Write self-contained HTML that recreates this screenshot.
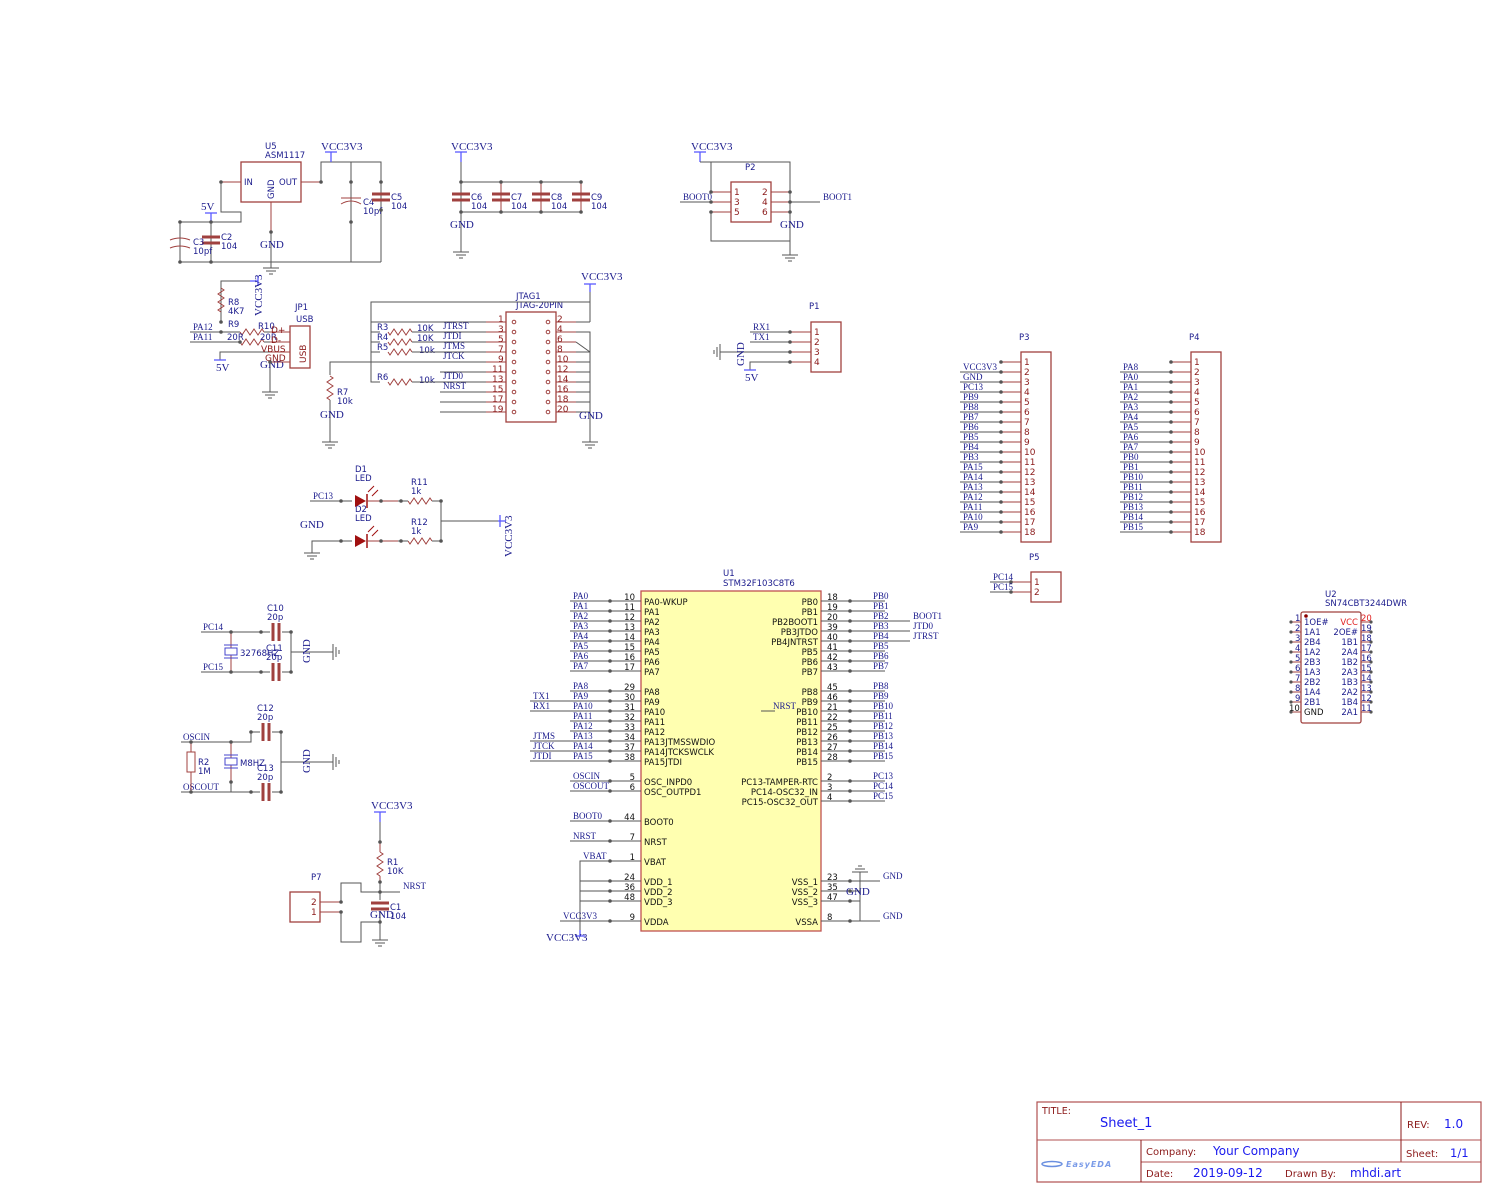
<!DOCTYPE html>
<html><head><meta charset="utf-8"><style>
html,body{margin:0;padding:0;background:#fff}
svg{display:block}
.w{stroke:#555;stroke-width:1;fill:none}
.p{stroke:#a0413f;stroke-width:1;fill:none}
.b{stroke:#a0413f;stroke-width:1.3;fill:none}
.pw{stroke:#5a5aff;stroke-width:1.3;fill:none}
.n{font-family:"Liberation Serif",serif;font-size:9px;fill:#1a1a8c}
.pn{font-family:"Liberation Serif",serif;font-size:11px;fill:#1a1a8c}
.s{font-family:"DejaVu Sans","Liberation Sans",sans-serif;font-size:8.5px;fill:#1a1a8c}
.sb{font-family:"DejaVu Sans","Liberation Sans",sans-serif;font-size:8.5px;fill:#111}
.r{font-family:"DejaVu Sans","Liberation Sans",sans-serif;font-size:9px;fill:#8b1a1a}
.d{fill:#555}
</style></head><body>
<svg width="1503" height="1203" viewBox="0 0 1503 1203" xmlns="http://www.w3.org/2000/svg">
<defs>
<g id="gnd"><line x1="-8" y1="0" x2="8" y2="0" stroke="#555"/><line x1="-5" y1="3" x2="5" y2="3" stroke="#555"/><line x1="-2" y1="6" x2="2" y2="6" stroke="#555"/></g>
<g id="cap"><line x1="-9" y1="-3" x2="9" y2="-3" stroke="#a0413f" stroke-width="3"/><line x1="-9" y1="3" x2="9" y2="3" stroke="#a0413f" stroke-width="3"/></g>
<g id="resv"><polyline points="0,-12 3,-10 -3,-6 3,-2 -3,2 3,6 -3,10 0,12" stroke="#a0413f" fill="none"/></g>
<g id="resh"><polyline points="-12,0 -10,3 -6,-3 -2,3 2,-3 6,3 10,-3 12,0" stroke="#a0413f" fill="none"/></g>
</defs>

<!-- ===== U5 power ===== -->
<text class="s" x="265" y="149">U5</text><text class="s" x="265" y="158">ASM1117</text>
<rect x="241" y="162" width="60" height="40" class="b"/>
<text class="s" x="244" y="185">IN</text><text class="s" x="279" y="185">OUT</text>
<text class="s" transform="translate(274,199) rotate(-90)">GND</text>
<line class="p" x1="221" y1="182" x2="241" y2="182"/><line class="p" x1="301" y1="182" x2="321" y2="182"/><line class="p" x1="271" y1="202" x2="271" y2="232"/>
<polyline class="w" points="221,182 221,212 241,212 241,222 180,222 180,262 381,262"/>
<line class="w" x1="271" y1="232" x2="271" y2="268"/>
<use href="#gnd" x="271" y="268"/>
<text class="pn" x="260" y="248">GND</text>
<line class="pw" x1="211" y1="213" x2="211" y2="222"/><line class="pw" x1="205" y1="213" x2="217" y2="213"/>
<text class="pn" x="201" y="210">5V</text>
<line class="w" x1="211" y1="222" x2="211" y2="262"/>
<use href="#cap" x="211" y="240"/>
<text class="s" x="221" y="240">C2</text><text class="s" x="221" y="249">104</text>
<path class="p" d="M170,240 Q180,236 190,240 M170,248 Q180,244 190,248"/>
<text class="s" x="193" y="245">C3</text><text class="s" x="193" y="254">10pf</text>
<polyline class="w" points="321,182 321,162 381,162 381,262"/>
<line class="pw" x1="331" y1="152" x2="331" y2="162"/><line class="pw" x1="325" y1="152" x2="337" y2="152"/>
<text class="pn" x="321" y="150">VCC3V3</text>
<line class="w" x1="351" y1="162" x2="351" y2="262"/>
<path class="p" d="M341,204 Q351,198 361,204"/><line class="p" x1="341" y1="198" x2="361" y2="198"/>
<text class="s" x="363" y="205">C4</text><text class="s" x="363" y="214">10pf</text>
<use href="#cap" x="381" y="197"/>
<text class="s" x="391" y="200">C5</text><text class="s" x="391" y="209">104</text>
<circle class="d" cx="221" cy="182" r="1.8"/><circle class="d" cx="321" cy="182" r="1.8"/><circle class="d" cx="351" cy="182" r="1.8"/><circle class="d" cx="381" cy="182" r="1.8"/><circle class="d" cx="271" cy="232" r="1.8"/><circle class="d" cx="211" cy="222" r="1.8"/><circle class="d" cx="180" cy="222" r="1.8"/><circle class="d" cx="180" cy="262" r="1.8"/><circle class="d" cx="211" cy="262" r="1.8"/><circle class="d" cx="351" cy="222" r="1.8"/><circle class="d" cx="381" cy="210" r="1.8"/>

<!-- ===== C6-C9 ===== -->
<line class="pw" x1="461" y1="152" x2="461" y2="162"/><line class="pw" x1="455" y1="152" x2="467" y2="152"/>
<text class="pn" x="451" y="150">VCC3V3</text>
<line class="w" x1="461" y1="162" x2="461" y2="252"/><use href="#gnd" x="461" y="252"/>
<line class="w" x1="461" y1="182" x2="581" y2="182"/><line class="w" x1="461" y1="212" x2="581" y2="212"/>
<text class="pn" x="450" y="228">GND</text>
<g><line class="p" x1="501" y1="182" x2="501" y2="212"/><line class="p" x1="541" y1="182" x2="541" y2="212"/><line class="p" x1="581" y1="182" x2="581" y2="212"/></g>
<use href="#cap" x="461" y="197"/><use href="#cap" x="501" y="197"/><use href="#cap" x="541" y="197"/><use href="#cap" x="581" y="197"/>
<text class="s" x="471" y="200">C6</text><text class="s" x="471" y="209">104</text>
<text class="s" x="511" y="200">C7</text><text class="s" x="511" y="209">104</text>
<text class="s" x="551" y="200">C8</text><text class="s" x="551" y="209">104</text>
<text class="s" x="591" y="200">C9</text><text class="s" x="591" y="209">104</text>
<circle class="d" cx="461" cy="182" r="1.8"/><circle class="d" cx="501" cy="182" r="1.8"/><circle class="d" cx="541" cy="182" r="1.8"/><circle class="d" cx="581" cy="182" r="1.8"/><circle class="d" cx="461" cy="212" r="1.8"/><circle class="d" cx="501" cy="212" r="1.8"/><circle class="d" cx="541" cy="212" r="1.8"/><circle class="d" cx="581" cy="212" r="1.8"/>

<!-- ===== P2 ===== -->
<line class="pw" x1="700" y1="152" x2="700" y2="162"/><line class="pw" x1="694" y1="152" x2="706" y2="152"/>
<text class="pn" x="691" y="150">VCC3V3</text>
<text class="s" x="745" y="170">P2</text>
<rect x="731" y="182" width="40" height="40" class="b"/>
<polyline class="w" points="700,162 790,162 790,255"/><polyline class="w" points="711,162 711,192"/><polyline class="w" points="711,212 711,241 790,241"/>
<use href="#gnd" x="790" y="255"/>
<line class="p" x1="711" y1="192" x2="731" y2="192"/><line class="p" x1="711" y1="202" x2="731" y2="202"/><line class="p" x1="711" y1="212" x2="731" y2="212"/>
<line class="p" x1="771" y1="192" x2="790" y2="192"/><line class="p" x1="771" y1="202" x2="790" y2="202"/><line class="p" x1="771" y1="212" x2="790" y2="212"/>
<line class="w" x1="680" y1="202" x2="711" y2="202"/><line class="w" x1="790" y1="202" x2="820" y2="202"/>
<text class="n" x="683" y="200">BOOT0</text><text class="n" x="823" y="200">BOOT1</text>
<text class="r" x="734" y="195">1</text><text class="r" x="734" y="205">3</text><text class="r" x="734" y="215">5</text>
<text class="r" x="762" y="195">2</text><text class="r" x="762" y="205">4</text><text class="r" x="762" y="215">6</text>
<text class="pn" x="780" y="228">GND</text>
<circle class="d" cx="711" cy="192" r="1.8"/><circle class="d" cx="711" cy="202" r="1.8"/><circle class="d" cx="711" cy="212" r="1.8"/><circle class="d" cx="790" cy="192" r="1.8"/><circle class="d" cx="790" cy="202" r="1.8"/><circle class="d" cx="790" cy="212" r="1.8"/>

<!-- ===== P1 ===== -->
<text class="s" x="809" y="309">P1</text>
<rect x="811" y="322" width="30" height="50" class="b"/>
<line class="w" x1="750" y1="332" x2="790" y2="332"/><line class="w" x1="750" y1="342" x2="790" y2="342"/><line class="w" x1="720" y1="352" x2="790" y2="352"/><polyline class="w" points="750,370 750,362 790,362"/>
<line class="p" x1="790" y1="332" x2="811" y2="332"/><line class="p" x1="790" y1="342" x2="811" y2="342"/><line class="p" x1="790" y1="352" x2="811" y2="352"/><line class="p" x1="790" y1="362" x2="811" y2="362"/>
<text class="r" x="814" y="335">1</text><text class="r" x="814" y="345">2</text><text class="r" x="814" y="355">3</text><text class="r" x="814" y="365">4</text>
<text class="n" x="753" y="330">RX1</text><text class="n" x="753" y="340">TX1</text>
<g transform="translate(720,352) rotate(90)"><use href="#gnd"/></g>
<text class="pn" transform="translate(744,366) rotate(-90)">GND</text>
<line class="pw" x1="744" y1="370" x2="756" y2="370"/><text class="pn" x="745" y="381">5V</text>
<circle class="d" cx="790" cy="332" r="1.8"/><circle class="d" cx="790" cy="342" r="1.8"/><circle class="d" cx="790" cy="352" r="1.8"/><circle class="d" cx="790" cy="362" r="1.8"/>

<!-- ===== USB ===== -->
<polyline class="w" points="221,322 221,281 250,281"/><line class="pw" x1="250" y1="281" x2="258" y2="281"/><line class="pw" x1="258" y1="276" x2="258" y2="286"/>
<text class="pn" transform="translate(262,316) rotate(-90)">VCC3V3</text>
<use href="#resv" x="221" y="300"/><text class="s" x="228" y="305">R8</text><text class="s" x="228" y="314">4K7</text>
<line class="w" x1="190" y1="332" x2="240" y2="332"/><line class="w" x1="190" y1="342" x2="240" y2="342"/>
<text class="n" x="193" y="330">PA12</text><text class="n" x="193" y="340">PA11</text>
<use href="#resh" x="252" y="332"/><use href="#resh" x="252" y="342"/>
<line class="w" x1="264" y1="332" x2="270" y2="332"/><line class="w" x1="264" y1="342" x2="270" y2="342"/>
<text class="s" x="228" y="327">R9</text><text class="s" x="227" y="340">20R</text><text class="s" x="258" y="329">R10</text><text class="s" x="260" y="340">20R</text>
<polyline class="w" points="220,360 220,352 270,352"/><line class="pw" x1="214" y1="360" x2="226" y2="360"/><text class="pn" x="216" y="371">5V</text>
<line class="w" x1="270" y1="362" x2="270" y2="392"/><use href="#gnd" x="270" y="392"/>
<text class="pn" x="260" y="368">GND</text>
<line class="p" x1="270" y1="332" x2="290" y2="332"/><line class="p" x1="270" y1="342" x2="290" y2="342"/><line class="p" x1="270" y1="352" x2="290" y2="352"/><line class="p" x1="270" y1="362" x2="290" y2="362"/>
<rect x="290" y="326" width="20" height="42" class="b"/>
<text class="r" x="271" y="333">D+</text><text class="r" x="271" y="343">D-</text><text class="r" x="261" y="352">VBUS</text><text class="r" x="265" y="361">GND</text>
<text class="r" transform="translate(306,363) rotate(-90)">USB</text>
<text class="s" x="295" y="310">JP1</text><text class="s" x="296" y="322">USB</text>
<circle class="d" cx="221" cy="322" r="1.8"/><circle class="d" cx="221" cy="332" r="1.8"/><circle class="d" cx="240" cy="342" r="1.8"/><circle class="d" cx="270" cy="362" r="1.8"/>

<!-- ===== JTAG ===== -->
<text class="s" x="516" y="299">JTAG1</text><text class="s" x="516" y="308">JTAG-20PIN</text>
<line class="pw" x1="590" y1="284" x2="590" y2="292"/><line class="pw" x1="584" y1="284" x2="596" y2="284"/>
<text class="pn" x="581" y="280">VCC3V3</text>
<polyline class="w" points="590,292 590,302 371,302 371,382 380,382"/>
<line class="w" x1="371" y1="332" x2="380" y2="332"/><line class="w" x1="371" y1="342" x2="380" y2="342"/><line class="w" x1="371" y1="352" x2="380" y2="352"/>
<use href="#resh" x="400" y="332"/><use href="#resh" x="400" y="342"/><use href="#resh" x="400" y="352"/><use href="#resh" x="400" y="382"/>
<text class="s" x="377" y="330">R3</text><text class="s" x="377" y="340">R4</text><text class="s" x="377" y="350">R5</text><text class="s" x="377" y="380">R6</text>
<text class="s" x="417" y="331">10K</text><text class="s" x="417" y="341">10K</text><text class="s" x="419" y="353">10k</text><text class="s" x="419" y="383">10k</text>
<line class="w" x1="412" y1="332" x2="486" y2="332"/><line class="w" x1="412" y1="342" x2="486" y2="342"/><line class="w" x1="412" y1="352" x2="486" y2="352"/><line class="w" x1="412" y1="382" x2="486" y2="382"/>
<line class="w" x1="371" y1="322" x2="486" y2="322"/>
<polyline class="w" points="330,375 330,362 486,362"/><line class="w" x1="330" y1="400" x2="330" y2="442"/><use href="#gnd" x="330" y="442"/>
<use href="#resv" x="330" y="388"/><text class="s" x="337" y="395">R7</text><text class="s" x="337" y="404">10k</text>
<text class="pn" x="320" y="418">GND</text>
<line class="w" x1="440" y1="372" x2="486" y2="372"/><line class="w" x1="440" y1="392" x2="486" y2="392"/><line class="w" x1="440" y1="402" x2="486" y2="402"/><line class="w" x1="440" y1="412" x2="486" y2="412"/>
<text class="n" x="443" y="329">JTRST</text><text class="n" x="443" y="339">JTDI</text><text class="n" x="443" y="349">JTMS</text><text class="n" x="443" y="359">JTCK</text><text class="n" x="443" y="379">JTD0</text><text class="n" x="443" y="389">NRST</text>
<rect x="506" y="312" width="50" height="110" class="b" stroke-width="2"/>
<g class="p">
<line x1="486" y1="322" x2="506" y2="322"/><line x1="486" y1="332" x2="506" y2="332"/><line x1="486" y1="342" x2="506" y2="342"/><line x1="486" y1="352" x2="506" y2="352"/><line x1="486" y1="362" x2="506" y2="362"/><line x1="486" y1="372" x2="506" y2="372"/><line x1="486" y1="382" x2="506" y2="382"/><line x1="486" y1="392" x2="506" y2="392"/><line x1="486" y1="402" x2="506" y2="402"/><line x1="486" y1="412" x2="506" y2="412"/>
<line x1="556" y1="322" x2="576" y2="322"/><line x1="556" y1="332" x2="576" y2="332"/><line x1="556" y1="342" x2="576" y2="342"/><line x1="556" y1="352" x2="576" y2="352"/><line x1="556" y1="362" x2="576" y2="362"/><line x1="556" y1="372" x2="576" y2="372"/><line x1="556" y1="382" x2="576" y2="382"/><line x1="556" y1="392" x2="576" y2="392"/><line x1="556" y1="402" x2="576" y2="402"/><line x1="556" y1="412" x2="576" y2="412"/>
</g>
<g fill="none" stroke="#a0413f"><circle cx="514" cy="322" r="1.8"/><circle cx="514" cy="332" r="1.8"/><circle cx="514" cy="342" r="1.8"/><circle cx="514" cy="352" r="1.8"/><circle cx="514" cy="362" r="1.8"/><circle cx="514" cy="372" r="1.8"/><circle cx="514" cy="382" r="1.8"/><circle cx="514" cy="392" r="1.8"/><circle cx="514" cy="402" r="1.8"/><circle cx="514" cy="412" r="1.8"/>
<circle cx="548" cy="322" r="1.8"/><circle cx="548" cy="332" r="1.8"/><circle cx="548" cy="342" r="1.8"/><circle cx="548" cy="352" r="1.8"/><circle cx="548" cy="362" r="1.8"/><circle cx="548" cy="372" r="1.8"/><circle cx="548" cy="382" r="1.8"/><circle cx="548" cy="392" r="1.8"/><circle cx="548" cy="402" r="1.8"/><circle cx="548" cy="412" r="1.8"/></g>
<g class="r" font-size="9"><text x="498" y="322">1</text><text x="498" y="332">3</text><text x="498" y="342">5</text><text x="498" y="352">7</text><text x="498" y="362">9</text><text x="492" y="372">11</text><text x="492" y="382">13</text><text x="492" y="392">15</text><text x="492" y="402">17</text><text x="492" y="412">19</text>
<text x="557" y="322">2</text><text x="557" y="332">4</text><text x="557" y="342">6</text><text x="557" y="352">8</text><text x="557" y="362">10</text><text x="557" y="372">12</text><text x="557" y="382">14</text><text x="557" y="392">16</text><text x="557" y="402">18</text><text x="557" y="412">20</text></g>
<line class="w" x1="576" y1="322" x2="590" y2="322"/><line class="w" x1="590" y1="302" x2="590" y2="322"/>
<polyline class="w" points="576,332 590,332 590,442"/><line class="w" x1="576" y1="342" x2="590" y2="352"/>
<line class="w" x1="576" y1="352" x2="590" y2="352"/><line class="w" x1="576" y1="362" x2="590" y2="362"/><line class="w" x1="576" y1="372" x2="590" y2="372"/><line class="w" x1="576" y1="382" x2="590" y2="382"/><line class="w" x1="576" y1="392" x2="590" y2="392"/><line class="w" x1="576" y1="402" x2="590" y2="402"/><line class="w" x1="576" y1="412" x2="590" y2="412"/>
<use href="#gnd" x="590" y="442"/><text class="pn" x="579" y="419">GND</text>

<!-- ===== LEDs ===== -->
<text class="s" x="355" y="472">D1</text><text class="s" x="355" y="481">LED</text>
<text class="s" x="355" y="512">D2</text><text class="s" x="355" y="521">LED</text>
<line class="w" x1="310" y1="501" x2="352" y2="501"/><text class="n" x="313" y="499">PC13</text>
<polygon points="355,495 355,507 366,501" fill="#a01010"/><line x1="367" y1="494" x2="367" y2="508" stroke="#a01010" stroke-width="1.5"/>
<polygon points="355,535 355,547 366,541" fill="#a01010"/><line x1="367" y1="534" x2="367" y2="548" stroke="#a01010" stroke-width="1.5"/>
<path d="M368,492 l6,-6 M372,496 l6,-6 M368,532 l6,-6 M372,536 l6,-6" stroke="#a01010"/>
<line class="p" x1="367" y1="501" x2="398" y2="501"/><line class="p" x1="367" y1="541" x2="398" y2="541"/>
<use href="#resh" x="420" y="501"/><use href="#resh" x="420" y="541"/>
<text class="s" x="411" y="485">R11</text><text class="s" x="411" y="494">1k</text><text class="s" x="411" y="525">R12</text><text class="s" x="411" y="534">1k</text>
<line class="w" x1="398" y1="501" x2="408" y2="501"/><line class="w" x1="398" y1="541" x2="408" y2="541"/>
<polyline class="w" points="432,501 441,501 441,541 432,541"/><line class="w" x1="441" y1="521" x2="498" y2="521"/>
<line class="pw" x1="498" y1="521" x2="506" y2="521"/><line class="pw" x1="500" y1="515" x2="500" y2="527"/>
<text class="pn" transform="translate(512,557) rotate(-90)">VCC3V3</text>
<polyline class="w" points="312,553 312,541 352,541"/><use href="#gnd" x="312" y="553"/>
<text class="pn" x="300" y="528">GND</text>
<circle class="d" cx="341" cy="501" r="1.8"/><circle class="d" cx="341" cy="541" r="1.8"/><circle class="d" cx="381" cy="501" r="1.8"/><circle class="d" cx="401" cy="501" r="1.8"/><circle class="d" cx="381" cy="541" r="1.8"/><circle class="d" cx="401" cy="541" r="1.8"/><circle class="d" cx="441" cy="501" r="1.8"/><circle class="d" cx="441" cy="541" r="1.8"/>

<!-- ===== 32768 crystal ===== -->
<text class="s" x="267" y="611">C10</text><text class="s" x="267" y="620">20p</text>
<line class="w" x1="201" y1="632" x2="270" y2="632"/><line class="w" x1="201" y1="672" x2="270" y2="672"/>
<text class="n" x="203" y="630">PC14</text><text class="n" x="203" y="670">PC15</text>
<g transform="translate(276,632) rotate(90)"><use href="#cap"/></g><g transform="translate(276,672) rotate(90)"><use href="#cap"/></g>
<line class="w" x1="282" y1="632" x2="291" y2="632"/><line class="w" x1="282" y1="672" x2="291" y2="672"/>
<line class="w" x1="291" y1="632" x2="291" y2="672"/><line class="w" x1="291" y1="652" x2="333" y2="652"/>
<g transform="translate(333,652) rotate(-90)"><use href="#gnd"/></g>
<text class="pn" transform="translate(310,663) rotate(-90)">GND</text>
<line class="p" x1="231" y1="632" x2="231" y2="672"/><rect x="225" y="648" width="12" height="7" fill="#fff" stroke="#4444cc"/>
<line x1="224" y1="645" x2="238" y2="645" stroke="#4444cc"/><line x1="224" y1="658" x2="238" y2="658" stroke="#4444cc"/>
<text class="s" x="240" y="656">32768HZ</text><text class="s" x="266" y="651">C11</text><text class="s" x="266" y="660">20p</text>
<circle class="d" cx="231" cy="632" r="1.8"/><circle class="d" cx="231" cy="672" r="1.8"/><circle class="d" cx="261" cy="632" r="1.8"/><circle class="d" cx="261" cy="672" r="1.8"/><circle class="d" cx="291" cy="632" r="1.8"/><circle class="d" cx="291" cy="672" r="1.8"/>

<!-- ===== 8MHz crystal ===== -->
<text class="s" x="257" y="711">C12</text><text class="s" x="257" y="720">20p</text>
<polyline class="w" points="181,742 251,742 251,732 260,732"/><line class="w" x1="272" y1="732" x2="281" y2="732"/>
<g transform="translate(266,732) rotate(90)"><use href="#cap"/></g>
<line class="w" x1="181" y1="792" x2="260" y2="792"/><line class="w" x1="272" y1="792" x2="281" y2="792"/>
<g transform="translate(266,792) rotate(90)"><use href="#cap"/></g>
<line class="w" x1="281" y1="732" x2="281" y2="792"/><line class="w" x1="281" y1="762" x2="333" y2="762"/>
<g transform="translate(333,762) rotate(-90)"><use href="#gnd"/></g>
<text class="pn" transform="translate(310,773) rotate(-90)">GND</text>
<text class="n" x="183" y="740">OSCIN</text><text class="n" x="183" y="790">OSCOUT</text>
<line class="p" x1="191" y1="742" x2="191" y2="792"/><rect x="187" y="752" width="8" height="20" fill="#fff" stroke="#a0413f"/>
<text class="s" x="198" y="765">R2</text><text class="s" x="198" y="774">1M</text>
<line class="p" x1="231" y1="742" x2="231" y2="782"/><line class="w" x1="231" y1="782" x2="231" y2="792"/><rect x="225" y="758" width="12" height="7" fill="#fff" stroke="#4444cc"/>
<line x1="224" y1="755" x2="238" y2="755" stroke="#4444cc"/><line x1="224" y1="768" x2="238" y2="768" stroke="#4444cc"/>
<text class="s" x="240" y="766">M8HZ</text><text class="s" x="257" y="771">C13</text><text class="s" x="257" y="780">20p</text>
<circle class="d" cx="191" cy="742" r="1.8"/><circle class="d" cx="191" cy="792" r="1.8"/><circle class="d" cx="231" cy="742" r="1.8"/><circle class="d" cx="231" cy="782" r="1.8"/><circle class="d" cx="251" cy="732" r="1.8"/><circle class="d" cx="251" cy="792" r="1.8"/><circle class="d" cx="281" cy="732" r="1.8"/><circle class="d" cx="281" cy="792" r="1.8"/>

<!-- ===== Reset ===== -->
<line class="pw" x1="380" y1="812" x2="380" y2="822"/><line class="pw" x1="374" y1="812" x2="386" y2="812"/>
<text class="pn" x="371" y="809">VCC3V3</text>
<line class="w" x1="380" y1="822" x2="380" y2="842"/>
<line class="p" x1="380" y1="842" x2="380" y2="852"/><use href="#resv" x="380" y="864"/><line class="p" x1="380" y1="876" x2="380" y2="882"/>
<text class="s" x="387" y="865">R1</text><text class="s" x="387" y="874">10K</text>
<line class="w" x1="380" y1="882" x2="380" y2="900"/><line class="w" x1="380" y1="912" x2="380" y2="940"/>
<use href="#cap" x="380" y="906"/><use href="#gnd" x="380" y="940"/>
<text class="s" x="390" y="910">C1</text><text class="s" x="390" y="919">104</text><text class="pn" x="370" y="918">GND</text>
<line class="w" x1="380" y1="892" x2="400" y2="892"/><text class="n" x="403" y="889">NRST</text>
<polyline class="w" points="341,902 341,883 361,883 361,892 380,892"/><polyline class="w" points="341,912 341,942 361,942 361,922 380,922"/>
<line class="p" x1="320" y1="902" x2="341" y2="902"/><line class="p" x1="320" y1="912" x2="341" y2="912"/>
<rect x="290" y="892" width="30" height="30" class="b"/>
<text class="r" x="311" y="905">2</text><text class="r" x="311" y="915">1</text><text class="s" x="311" y="880">P7</text>
<circle class="d" cx="341" cy="902" r="1.8"/><circle class="d" cx="341" cy="912" r="1.8"/><circle class="d" cx="380" cy="842" r="1.8"/><circle class="d" cx="380" cy="882" r="1.8"/><circle class="d" cx="380" cy="892" r="1.8"/><circle class="d" cx="380" cy="922" r="1.8"/>

<!-- ===== U1 ===== -->
<text class="s" x="723" y="576">U1</text><text class="s" x="723" y="586">STM32F103C8T6</text>
<rect x="641" y="591" width="180" height="340" fill="#ffffb0" stroke="#c05050" stroke-width="1.3"/>
<g class="w">
<line x1="570" y1="601" x2="641" y2="601"/><line x1="570" y1="611" x2="641" y2="611"/><line x1="570" y1="621" x2="641" y2="621"/><line x1="570" y1="631" x2="641" y2="631"/><line x1="570" y1="641" x2="641" y2="641"/><line x1="570" y1="651" x2="641" y2="651"/><line x1="570" y1="661" x2="641" y2="661"/><line x1="570" y1="671" x2="641" y2="671"/>
<line x1="570" y1="691" x2="641" y2="691"/><line x1="530" y1="701" x2="641" y2="701"/><line x1="530" y1="711" x2="641" y2="711"/><line x1="570" y1="721" x2="641" y2="721"/><line x1="570" y1="731" x2="641" y2="731"/><line x1="530" y1="741" x2="641" y2="741"/><line x1="530" y1="751" x2="641" y2="751"/><line x1="530" y1="761" x2="641" y2="761"/>
<line x1="570" y1="781" x2="641" y2="781"/><line x1="570" y1="791" x2="641" y2="791"/><line x1="570" y1="821" x2="641" y2="821"/><line x1="570" y1="841" x2="641" y2="841"/>
<polyline points="641,861 580,861 580,930"/><line x1="580" y1="881" x2="641" y2="881"/><line x1="580" y1="891" x2="641" y2="891"/><line x1="580" y1="901" x2="641" y2="901"/><line x1="560" y1="921" x2="641" y2="921"/>
<line x1="821" y1="601" x2="885" y2="601"/><line x1="821" y1="611" x2="885" y2="611"/><line x1="821" y1="621" x2="910" y2="621"/><line x1="821" y1="631" x2="910" y2="631"/><line x1="821" y1="641" x2="910" y2="641"/><line x1="821" y1="651" x2="885" y2="651"/><line x1="821" y1="661" x2="885" y2="661"/><line x1="821" y1="671" x2="885" y2="671"/>
<line x1="821" y1="691" x2="885" y2="691"/><line x1="821" y1="701" x2="885" y2="701"/><line x1="821" y1="711" x2="885" y2="711"/><line x1="821" y1="721" x2="885" y2="721"/><line x1="821" y1="731" x2="885" y2="731"/><line x1="821" y1="741" x2="885" y2="741"/><line x1="821" y1="751" x2="885" y2="751"/><line x1="821" y1="761" x2="885" y2="761"/>
<line x1="821" y1="781" x2="885" y2="781"/><line x1="821" y1="791" x2="885" y2="791"/><line x1="821" y1="801" x2="885" y2="801"/>
<line x1="821" y1="881" x2="880" y2="881"/><line x1="821" y1="891" x2="860" y2="891"/><line x1="821" y1="901" x2="860" y2="901"/><line x1="821" y1="921" x2="880" y2="921"/><line x1="860" y1="872" x2="860" y2="921"/>
<line x1="761" y1="711" x2="775" y2="711"/>
</g>
<line class="pw" x1="580" y1="930" x2="580" y2="936"/><line class="pw" x1="575" y1="936" x2="585" y2="936"/>
<g transform="translate(860,872) rotate(180)"><use href="#gnd"/></g>
<g fill="#555">
<circle cx="610" cy="601" r="1.8"/><circle cx="610" cy="611" r="1.8"/><circle cx="610" cy="621" r="1.8"/><circle cx="610" cy="631" r="1.8"/><circle cx="610" cy="641" r="1.8"/><circle cx="610" cy="651" r="1.8"/><circle cx="610" cy="661" r="1.8"/><circle cx="610" cy="671" r="1.8"/><circle cx="610" cy="691" r="1.8"/><circle cx="610" cy="701" r="1.8"/><circle cx="610" cy="711" r="1.8"/><circle cx="610" cy="721" r="1.8"/><circle cx="610" cy="731" r="1.8"/><circle cx="610" cy="741" r="1.8"/><circle cx="610" cy="751" r="1.8"/><circle cx="610" cy="761" r="1.8"/><circle cx="610" cy="781" r="1.8"/><circle cx="610" cy="791" r="1.8"/><circle cx="610" cy="821" r="1.8"/><circle cx="610" cy="841" r="1.8"/><circle cx="610" cy="861" r="1.8"/><circle cx="610" cy="881" r="1.8"/><circle cx="610" cy="891" r="1.8"/><circle cx="610" cy="901" r="1.8"/><circle cx="610" cy="921" r="1.8"/>
<circle cx="850" cy="601" r="1.8"/><circle cx="850" cy="611" r="1.8"/><circle cx="850" cy="621" r="1.8"/><circle cx="850" cy="631" r="1.8"/><circle cx="850" cy="641" r="1.8"/><circle cx="850" cy="651" r="1.8"/><circle cx="850" cy="661" r="1.8"/><circle cx="850" cy="671" r="1.8"/><circle cx="850" cy="691" r="1.8"/><circle cx="850" cy="701" r="1.8"/><circle cx="850" cy="711" r="1.8"/><circle cx="850" cy="721" r="1.8"/><circle cx="850" cy="731" r="1.8"/><circle cx="850" cy="741" r="1.8"/><circle cx="850" cy="751" r="1.8"/><circle cx="850" cy="761" r="1.8"/><circle cx="850" cy="781" r="1.8"/><circle cx="850" cy="791" r="1.8"/><circle cx="850" cy="801" r="1.8"/><circle cx="850" cy="881" r="1.8"/><circle cx="850" cy="891" r="1.8"/><circle cx="850" cy="901" r="1.8"/><circle cx="850" cy="921" r="1.8"/>
</g>
<g class="n">
<text x="573" y="599">PA0</text><text x="573" y="609">PA1</text><text x="573" y="619">PA2</text><text x="573" y="629">PA3</text><text x="573" y="639">PA4</text><text x="573" y="649">PA5</text><text x="573" y="659">PA6</text><text x="573" y="669">PA7</text>
<text x="573" y="689">PA8</text><text x="573" y="699">PA9</text><text x="573" y="709">PA10</text><text x="573" y="719">PA11</text><text x="573" y="729">PA12</text><text x="573" y="739">PA13</text><text x="573" y="749">PA14</text><text x="573" y="759">PA15</text>
<text x="533" y="699">TX1</text><text x="533" y="709">RX1</text><text x="533" y="739">JTMS</text><text x="533" y="749">JTCK</text><text x="533" y="759">JTDI</text>
<text x="573" y="779">OSCIN</text><text x="573" y="789">OSCOUT</text><text x="573" y="819">BOOT0</text><text x="573" y="839">NRST</text><text x="583" y="859">VBAT</text><text x="563" y="919">VCC3V3</text>
<text x="873" y="599">PB0</text><text x="873" y="609">PB1</text><text x="873" y="619">PB2</text><text x="873" y="629">PB3</text><text x="873" y="639">PB4</text><text x="873" y="649">PB5</text><text x="873" y="659">PB6</text><text x="873" y="669">PB7</text>
<text x="873" y="689">PB8</text><text x="873" y="699">PB9</text><text x="873" y="709">PB10</text><text x="873" y="719">PB11</text><text x="873" y="729">PB12</text><text x="873" y="739">PB13</text><text x="873" y="749">PB14</text><text x="873" y="759">PB15</text>
<text x="873" y="779">PC13</text><text x="873" y="789">PC14</text><text x="873" y="799">PC15</text>
<text x="913" y="619">BOOT1</text><text x="913" y="629">JTD0</text><text x="913" y="639">JTRST</text>
<text x="773" y="709">NRST</text><text x="883" y="879">GND</text><text x="883" y="919">GND</text>
</g>
<text class="pn" x="546" y="941">VCC3V3</text><text class="pn" x="846" y="895">GND</text>
<g class="sb" text-anchor="end">
<text x="635" y="600">10</text><text x="635" y="610">11</text><text x="635" y="620">12</text><text x="635" y="630">13</text><text x="635" y="640">14</text><text x="635" y="650">15</text><text x="635" y="660">16</text><text x="635" y="670">17</text>
<text x="635" y="690">29</text><text x="635" y="700">30</text><text x="635" y="710">31</text><text x="635" y="720">32</text><text x="635" y="730">33</text><text x="635" y="740">34</text><text x="635" y="750">37</text><text x="635" y="760">38</text>
<text x="635" y="780">5</text><text x="635" y="790">6</text><text x="635" y="820">44</text><text x="635" y="840">7</text><text x="635" y="860">1</text><text x="635" y="880">24</text><text x="635" y="890">36</text><text x="635" y="900">48</text><text x="635" y="920">9</text>
</g>
<g class="sb">
<text x="827" y="600">18</text><text x="827" y="610">19</text><text x="827" y="620">20</text><text x="827" y="630">39</text><text x="827" y="640">40</text><text x="827" y="650">41</text><text x="827" y="660">42</text><text x="827" y="670">43</text>
<text x="827" y="690">45</text><text x="827" y="700">46</text><text x="827" y="710">21</text><text x="827" y="720">22</text><text x="827" y="730">25</text><text x="827" y="740">26</text><text x="827" y="750">27</text><text x="827" y="760">28</text>
<text x="827" y="780">2</text><text x="827" y="790">3</text><text x="827" y="800">4</text><text x="827" y="880">23</text><text x="827" y="890">35</text><text x="827" y="900">47</text><text x="827" y="920">8</text>
</g>
<g class="sb">
<text x="644" y="605">PA0-WKUP</text><text x="644" y="615">PA1</text><text x="644" y="625">PA2</text><text x="644" y="635">PA3</text><text x="644" y="645">PA4</text><text x="644" y="655">PA5</text><text x="644" y="665">PA6</text><text x="644" y="675">PA7</text>
<text x="644" y="695">PA8</text><text x="644" y="705">PA9</text><text x="644" y="715">PA10</text><text x="644" y="725">PA11</text><text x="644" y="735">PA12</text><text x="644" y="745">PA13JTMSSWDIO</text><text x="644" y="755">PA14JTCKSWCLK</text><text x="644" y="765">PA15JTDI</text>
<text x="644" y="785">OSC_INPD0</text><text x="644" y="795">OSC_OUTPD1</text><text x="644" y="825">BOOT0</text><text x="644" y="845">NRST</text><text x="644" y="865">VBAT</text><text x="644" y="885">VDD_1</text><text x="644" y="895">VDD_2</text><text x="644" y="905">VDD_3</text><text x="644" y="925">VDDA</text>
</g>
<g class="sb" text-anchor="end">
<text x="818" y="605">PB0</text><text x="818" y="615">PB1</text><text x="818" y="625">PB2BOOT1</text><text x="818" y="635">PB3JTDO</text><text x="818" y="645">PB4JNTRST</text><text x="818" y="655">PB5</text><text x="818" y="665">PB6</text><text x="818" y="675">PB7</text>
<text x="818" y="695">PB8</text><text x="818" y="705">PB9</text><text x="818" y="715">PB10</text><text x="818" y="725">PB11</text><text x="818" y="735">PB12</text><text x="818" y="745">PB13</text><text x="818" y="755">PB14</text><text x="818" y="765">PB15</text>
<text x="818" y="785">PC13-TAMPER-RTC</text><text x="818" y="795">PC14-OSC32_IN</text><text x="818" y="805">PC15-OSC32_OUT</text><text x="818" y="885">VSS_1</text><text x="818" y="895">VSS_2</text><text x="818" y="905">VSS_3</text><text x="818" y="925">VSSA</text>
</g>

<!-- ===== P3 ===== -->
<text class="s" x="1019" y="340">P3</text>
<rect x="1021" y="352" width="30" height="190" class="b"/>
<g class="w">
<line x1="1000" y1="362" x2="1001" y2="362"/><line x1="960" y1="372" x2="1001" y2="372"/><line x1="960" y1="382" x2="1001" y2="382"/><line x1="960" y1="392" x2="1001" y2="392"/><line x1="960" y1="402" x2="1001" y2="402"/><line x1="960" y1="412" x2="1001" y2="412"/><line x1="960" y1="422" x2="1001" y2="422"/><line x1="960" y1="432" x2="1001" y2="432"/><line x1="960" y1="442" x2="1001" y2="442"/><line x1="960" y1="452" x2="1001" y2="452"/><line x1="960" y1="462" x2="1001" y2="462"/><line x1="960" y1="472" x2="1001" y2="472"/><line x1="960" y1="482" x2="1001" y2="482"/><line x1="960" y1="492" x2="1001" y2="492"/><line x1="960" y1="502" x2="1001" y2="502"/><line x1="960" y1="512" x2="1001" y2="512"/><line x1="960" y1="522" x2="1001" y2="522"/><line x1="960" y1="532" x2="1001" y2="532"/>
<line x1="1120" y1="372" x2="1171" y2="372"/><line x1="1120" y1="382" x2="1171" y2="382"/><line x1="1120" y1="392" x2="1171" y2="392"/><line x1="1120" y1="402" x2="1171" y2="402"/><line x1="1120" y1="412" x2="1171" y2="412"/><line x1="1120" y1="422" x2="1171" y2="422"/><line x1="1120" y1="432" x2="1171" y2="432"/><line x1="1120" y1="442" x2="1171" y2="442"/><line x1="1120" y1="452" x2="1171" y2="452"/><line x1="1120" y1="462" x2="1171" y2="462"/><line x1="1120" y1="472" x2="1171" y2="472"/><line x1="1120" y1="482" x2="1171" y2="482"/><line x1="1120" y1="492" x2="1171" y2="492"/><line x1="1120" y1="502" x2="1171" y2="502"/><line x1="1120" y1="512" x2="1171" y2="512"/><line x1="1120" y1="522" x2="1171" y2="522"/><line x1="1120" y1="532" x2="1171" y2="532"/>
</g>
<g class="p">
<line x1="1001" y1="362" x2="1021" y2="362"/><line x1="1001" y1="372" x2="1021" y2="372"/><line x1="1001" y1="382" x2="1021" y2="382"/><line x1="1001" y1="392" x2="1021" y2="392"/><line x1="1001" y1="402" x2="1021" y2="402"/><line x1="1001" y1="412" x2="1021" y2="412"/><line x1="1001" y1="422" x2="1021" y2="422"/><line x1="1001" y1="432" x2="1021" y2="432"/><line x1="1001" y1="442" x2="1021" y2="442"/><line x1="1001" y1="452" x2="1021" y2="452"/><line x1="1001" y1="462" x2="1021" y2="462"/><line x1="1001" y1="472" x2="1021" y2="472"/><line x1="1001" y1="482" x2="1021" y2="482"/><line x1="1001" y1="492" x2="1021" y2="492"/><line x1="1001" y1="502" x2="1021" y2="502"/><line x1="1001" y1="512" x2="1021" y2="512"/><line x1="1001" y1="522" x2="1021" y2="522"/><line x1="1001" y1="532" x2="1021" y2="532"/>
<line x1="1171" y1="362" x2="1191" y2="362"/><line x1="1171" y1="372" x2="1191" y2="372"/><line x1="1171" y1="382" x2="1191" y2="382"/><line x1="1171" y1="392" x2="1191" y2="392"/><line x1="1171" y1="402" x2="1191" y2="402"/><line x1="1171" y1="412" x2="1191" y2="412"/><line x1="1171" y1="422" x2="1191" y2="422"/><line x1="1171" y1="432" x2="1191" y2="432"/><line x1="1171" y1="442" x2="1191" y2="442"/><line x1="1171" y1="452" x2="1191" y2="452"/><line x1="1171" y1="462" x2="1191" y2="462"/><line x1="1171" y1="472" x2="1191" y2="472"/><line x1="1171" y1="482" x2="1191" y2="482"/><line x1="1171" y1="492" x2="1191" y2="492"/><line x1="1171" y1="502" x2="1191" y2="502"/><line x1="1171" y1="512" x2="1191" y2="512"/><line x1="1171" y1="522" x2="1191" y2="522"/><line x1="1171" y1="532" x2="1191" y2="532"/>
</g>
<g fill="#555">
<circle cx="1001" cy="362" r="1.8"/><circle cx="1001" cy="372" r="1.8"/><circle cx="1001" cy="382" r="1.8"/><circle cx="1001" cy="392" r="1.8"/><circle cx="1001" cy="402" r="1.8"/><circle cx="1001" cy="412" r="1.8"/><circle cx="1001" cy="422" r="1.8"/><circle cx="1001" cy="432" r="1.8"/><circle cx="1001" cy="442" r="1.8"/><circle cx="1001" cy="452" r="1.8"/><circle cx="1001" cy="462" r="1.8"/><circle cx="1001" cy="472" r="1.8"/><circle cx="1001" cy="482" r="1.8"/><circle cx="1001" cy="492" r="1.8"/><circle cx="1001" cy="502" r="1.8"/><circle cx="1001" cy="512" r="1.8"/><circle cx="1001" cy="522" r="1.8"/><circle cx="1001" cy="532" r="1.8"/>
<circle cx="1171" cy="362" r="1.8"/><circle cx="1171" cy="372" r="1.8"/><circle cx="1171" cy="382" r="1.8"/><circle cx="1171" cy="392" r="1.8"/><circle cx="1171" cy="402" r="1.8"/><circle cx="1171" cy="412" r="1.8"/><circle cx="1171" cy="422" r="1.8"/><circle cx="1171" cy="432" r="1.8"/><circle cx="1171" cy="442" r="1.8"/><circle cx="1171" cy="452" r="1.8"/><circle cx="1171" cy="462" r="1.8"/><circle cx="1171" cy="472" r="1.8"/><circle cx="1171" cy="482" r="1.8"/><circle cx="1171" cy="492" r="1.8"/><circle cx="1171" cy="502" r="1.8"/><circle cx="1171" cy="512" r="1.8"/><circle cx="1171" cy="522" r="1.8"/><circle cx="1171" cy="532" r="1.8"/>
</g>
<g class="n">
<text x="963" y="370">VCC3V3</text><text x="963" y="380">GND</text><text x="963" y="390">PC13</text><text x="963" y="400">PB9</text><text x="963" y="410">PB8</text><text x="963" y="420">PB7</text><text x="963" y="430">PB6</text><text x="963" y="440">PB5</text><text x="963" y="450">PB4</text><text x="963" y="460">PB3</text><text x="963" y="470">PA15</text><text x="963" y="480">PA14</text><text x="963" y="490">PA13</text><text x="963" y="500">PA12</text><text x="963" y="510">PA11</text><text x="963" y="520">PA10</text><text x="963" y="530">PA9</text>
<text x="1123" y="370">PA8</text><text x="1123" y="380">PA0</text><text x="1123" y="390">PA1</text><text x="1123" y="400">PA2</text><text x="1123" y="410">PA3</text><text x="1123" y="420">PA4</text><text x="1123" y="430">PA5</text><text x="1123" y="440">PA6</text><text x="1123" y="450">PA7</text><text x="1123" y="460">PB0</text><text x="1123" y="470">PB1</text><text x="1123" y="480">PB10</text><text x="1123" y="490">PB11</text><text x="1123" y="500">PB12</text><text x="1123" y="510">PB13</text><text x="1123" y="520">PB14</text><text x="1123" y="530">PB15</text>
</g>
<g class="r">
<text x="1024" y="365">1</text><text x="1024" y="375">2</text><text x="1024" y="385">3</text><text x="1024" y="395">4</text><text x="1024" y="405">5</text><text x="1024" y="415">6</text><text x="1024" y="425">7</text><text x="1024" y="435">8</text><text x="1024" y="445">9</text><text x="1024" y="455">10</text><text x="1024" y="465">11</text><text x="1024" y="475">12</text><text x="1024" y="485">13</text><text x="1024" y="495">14</text><text x="1024" y="505">15</text><text x="1024" y="515">16</text><text x="1024" y="525">17</text><text x="1024" y="535">18</text>
<text x="1194" y="365">1</text><text x="1194" y="375">2</text><text x="1194" y="385">3</text><text x="1194" y="395">4</text><text x="1194" y="405">5</text><text x="1194" y="415">6</text><text x="1194" y="425">7</text><text x="1194" y="435">8</text><text x="1194" y="445">9</text><text x="1194" y="455">10</text><text x="1194" y="465">11</text><text x="1194" y="475">12</text><text x="1194" y="485">13</text><text x="1194" y="495">14</text><text x="1194" y="505">15</text><text x="1194" y="515">16</text><text x="1194" y="525">17</text><text x="1194" y="535">18</text>
</g>
<text class="s" x="1189" y="340">P4</text>
<rect x="1191" y="352" width="30" height="190" class="b"/>

<!-- ===== P5 ===== -->
<text class="s" x="1029" y="560">P5</text>
<rect x="1031" y="572" width="30" height="30" class="b"/>
<line class="w" x1="990" y1="582" x2="1011" y2="582"/><line class="w" x1="990" y1="592" x2="1011" y2="592"/>
<line class="p" x1="1011" y1="582" x2="1031" y2="582"/><line class="p" x1="1011" y1="592" x2="1031" y2="592"/>
<circle class="d" cx="1011" cy="582" r="1.8"/><circle class="d" cx="1011" cy="592" r="1.8"/>
<text class="n" x="993" y="580">PC14</text><text class="n" x="993" y="590">PC15</text>
<text class="r" x="1034" y="585">1</text><text class="r" x="1034" y="595">2</text>

<!-- ===== U2 ===== -->
<text class="s" x="1325" y="597">U2</text><text class="s" x="1325" y="606">SN74CBT3244DWR</text>
<rect x="1301" y="612" width="60" height="111" rx="2" class="b"/>
<circle cx="1306" cy="616" r="1.8" fill="#8b0000"/>
<g class="p">
<line x1="1291" y1="622" x2="1301" y2="622"/><line x1="1291" y1="632" x2="1301" y2="632"/><line x1="1291" y1="642" x2="1301" y2="642"/><line x1="1291" y1="652" x2="1301" y2="652"/><line x1="1291" y1="662" x2="1301" y2="662"/><line x1="1291" y1="672" x2="1301" y2="672"/><line x1="1291" y1="682" x2="1301" y2="682"/><line x1="1291" y1="692" x2="1301" y2="692"/><line x1="1291" y1="702" x2="1301" y2="702"/><line x1="1291" y1="712" x2="1301" y2="712"/>
<line x1="1361" y1="622" x2="1371" y2="622"/><line x1="1361" y1="632" x2="1371" y2="632"/><line x1="1361" y1="642" x2="1371" y2="642"/><line x1="1361" y1="652" x2="1371" y2="652"/><line x1="1361" y1="662" x2="1371" y2="662"/><line x1="1361" y1="672" x2="1371" y2="672"/><line x1="1361" y1="682" x2="1371" y2="682"/><line x1="1361" y1="692" x2="1371" y2="692"/><line x1="1361" y1="702" x2="1371" y2="702"/><line x1="1361" y1="712" x2="1371" y2="712"/>
</g>
<g fill="#555"><circle cx="1291" cy="622" r="1.6"/><circle cx="1291" cy="632" r="1.6"/><circle cx="1291" cy="642" r="1.6"/><circle cx="1291" cy="652" r="1.6"/><circle cx="1291" cy="662" r="1.6"/><circle cx="1291" cy="672" r="1.6"/><circle cx="1291" cy="682" r="1.6"/><circle cx="1291" cy="692" r="1.6"/><circle cx="1291" cy="702" r="1.6"/><circle cx="1291" cy="712" r="1.6"/>
<circle cx="1371" cy="622" r="1.6"/><circle cx="1371" cy="632" r="1.6"/><circle cx="1371" cy="642" r="1.6"/><circle cx="1371" cy="652" r="1.6"/><circle cx="1371" cy="662" r="1.6"/><circle cx="1371" cy="672" r="1.6"/><circle cx="1371" cy="682" r="1.6"/><circle cx="1371" cy="692" r="1.6"/><circle cx="1371" cy="702" r="1.6"/><circle cx="1371" cy="712" r="1.6"/></g>
<g class="s" font-size="8.5">
<text x="1295" y="621">1</text><text x="1295" y="631">2</text><text x="1295" y="641">3</text><text x="1295" y="651">4</text><text x="1295" y="661">5</text><text x="1295" y="671">6</text><text x="1295" y="681">7</text><text x="1295" y="691">8</text><text x="1295" y="701">9</text><text x="1289" y="711" fill="#111">10</text>
<text x="1361" y="631">19</text><text x="1361" y="641">18</text><text x="1361" y="651">17</text><text x="1361" y="661">16</text><text x="1361" y="671">15</text><text x="1361" y="681">14</text><text x="1361" y="691">13</text><text x="1361" y="701">12</text><text x="1361" y="711">11</text>
<text x="1304" y="625">1OE#</text><text x="1304" y="635">1A1</text><text x="1304" y="645">2B4</text><text x="1304" y="655">1A2</text><text x="1304" y="665">2B3</text><text x="1304" y="675">1A3</text><text x="1304" y="685">2B2</text><text x="1304" y="695">1A4</text><text x="1304" y="705">2B1</text>
<g text-anchor="end"><text x="1358" y="635">2OE#</text><text x="1358" y="645">1B1</text><text x="1358" y="655">2A4</text><text x="1358" y="665">1B2</text><text x="1358" y="675">2A3</text><text x="1358" y="685">1B3</text><text x="1358" y="695">2A2</text><text x="1358" y="705">1B4</text><text x="1358" y="715">2A1</text></g>
</g>
<text class="sb" x="1304" y="715">GND</text>
<text x="1358" y="625" text-anchor="end" font-family="DejaVu Sans,sans-serif" font-size="8.5" fill="#e02020">VCC</text>
<text x="1361" y="621" font-family="DejaVu Sans,sans-serif" font-size="8.5" fill="#e02020">20</text>

<!-- ===== Title block ===== -->
<rect x="1037" y="1102" width="444" height="80" fill="none" stroke="#b05050" stroke-width="1.2"/>
<line x1="1037" y1="1140" x2="1481" y2="1140" stroke="#b05050"/>
<line x1="1401" y1="1102" x2="1401" y2="1162" stroke="#8b1a1a"/>
<line x1="1141" y1="1162" x2="1481" y2="1162" stroke="#b05050"/>
<line x1="1141" y1="1140" x2="1141" y2="1182" stroke="#8b1a1a"/>
<text x="1042" y="1114" font-family="DejaVu Sans,sans-serif" font-size="9.5" fill="#8b1a1a">TITLE:</text>
<text x="1100" y="1127" font-family="DejaVu Sans,sans-serif" font-size="13" fill="#1a1aee">Sheet_1</text>
<text x="1407" y="1128" font-family="DejaVu Sans,sans-serif" font-size="10" fill="#8b1a1a">REV:</text>
<text x="1444" y="1128" font-family="DejaVu Sans,sans-serif" font-size="12" fill="#1a1aee">1.0</text>
<text x="1146" y="1155" font-family="DejaVu Sans,sans-serif" font-size="10" fill="#8b1a1a">Company:</text>
<text x="1213" y="1155" font-family="DejaVu Sans,sans-serif" font-size="12" fill="#1a1aee">Your Company</text>
<text x="1406" y="1157" font-family="DejaVu Sans,sans-serif" font-size="10" fill="#8b1a1a">Sheet:</text>
<text x="1450" y="1157" font-family="DejaVu Sans,sans-serif" font-size="11.5" fill="#1a1aee">1/1</text>
<text x="1146" y="1177" font-family="DejaVu Sans,sans-serif" font-size="10" fill="#8b1a1a">Date:</text>
<text x="1193" y="1177" font-family="DejaVu Sans,sans-serif" font-size="12" fill="#1a1aee">2019-09-12</text>
<text x="1285" y="1177" font-family="DejaVu Sans,sans-serif" font-size="10" fill="#8b1a1a">Drawn By:</text>
<text x="1350" y="1177" font-family="DejaVu Sans,sans-serif" font-size="12" fill="#1a1aee">mhdi.art</text>
<ellipse cx="1052" cy="1164" rx="10" ry="2.5" fill="none" stroke="#6a8fe0" stroke-width="1.5"/>
<text x="1066" y="1167" font-family="DejaVu Sans,sans-serif" font-size="8" font-style="italic" font-weight="bold" fill="#7a9be8" letter-spacing="1">EasyEDA</text>
</svg>
</body></html>
